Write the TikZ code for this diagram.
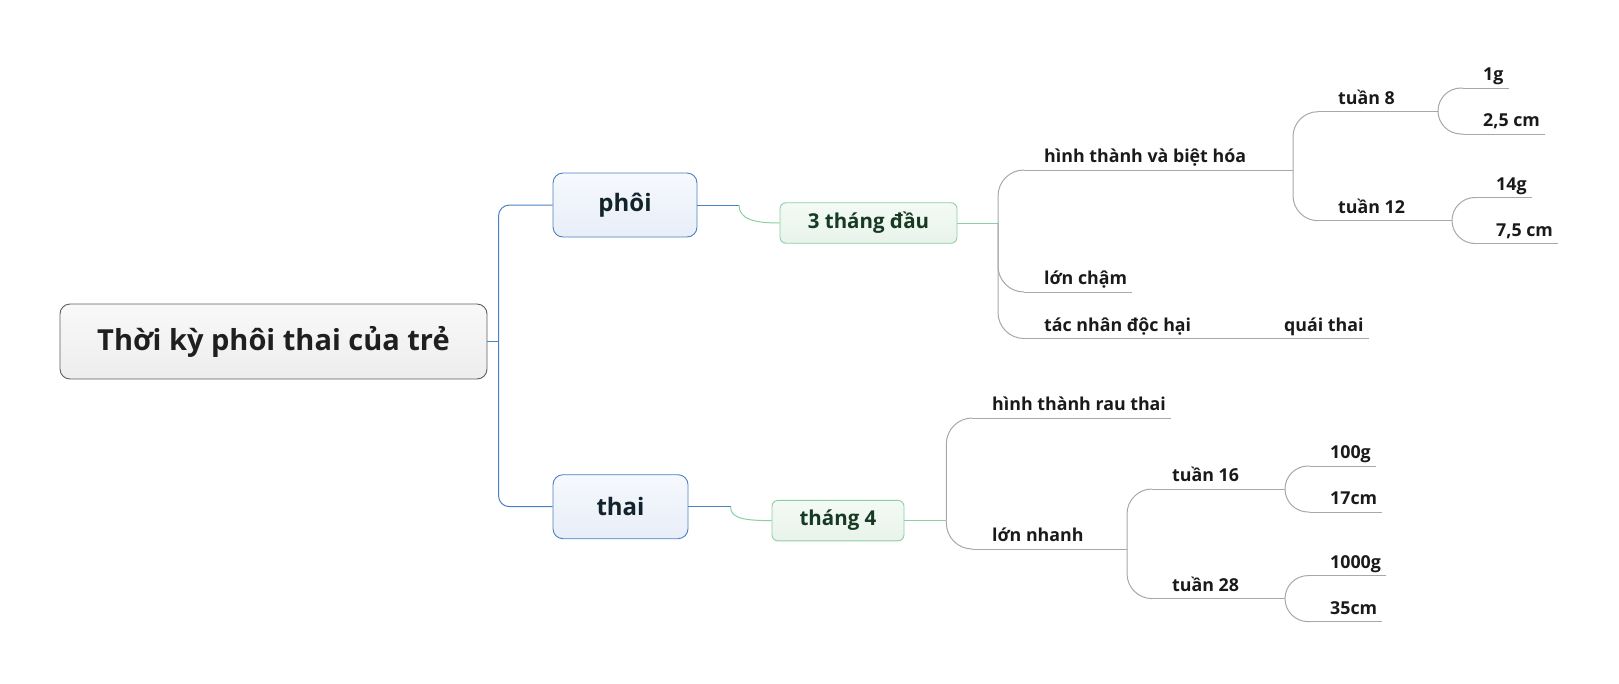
\documentclass[tikz,border=0pt]{standalone}
\usepackage{fontspec}
\setmainfont{Open Sans}
\definecolor{rootline}{HTML}{5E5E5E}
\definecolor{roottext}{HTML}{1F1F1F}
\definecolor{mainline}{HTML}{4A80C4}
\definecolor{maintop}{HTML}{F6F9FD}
\definecolor{mainbottom}{HTML}{E8EEF8}
\definecolor{maintext}{HTML}{13232C}
\definecolor{stageline}{HTML}{8CCFA2}
\definecolor{stagetop}{HTML}{F4FAF5}
\definecolor{stagebottom}{HTML}{E8F3EB}
\definecolor{stagetext}{HTML}{173A24}
\definecolor{twigline}{HTML}{A8A8A8}
\definecolor{topictext}{HTML}{1A1A1A}
\tikzset{
	rootbox/.style={draw=rootline, line width=0.9pt, rounded corners=10pt, top color=gray!5, bottom color=gray!14, inner sep=0pt, minimum width=427pt, minimum height=75pt, text=roottext, font=\bfseries\fontsize{29}{34}\selectfont},
	mainbox/.style={draw=mainline, line width=0.9pt, rounded corners=10pt, top color=maintop, bottom color=mainbottom, inner sep=0pt, minimum height=64pt, text=maintext, font=\bfseries\fontsize{24}{28}\selectfont},
	stagebox/.style={draw=stageline, line width=0.9pt, rounded corners=6pt, top color=stagetop, bottom color=stagebottom, inner sep=0pt, minimum height=40.5pt, text=stagetext, font=\bfseries\fontsize{20.5}{24}\selectfont},
	topic/.style={anchor=south west, inner xsep=0pt, inner ysep=7pt, text depth=0pt, text=topictext, font=\bfseries\fontsize{17.8}{21}\selectfont, execute at begin node=\hspace*{20pt}, execute at end node=\hspace*{5pt}}
}
\begin{document}
\begin{tikzpicture}[x=1pt, y=-1pt,
	trunk/.style={draw=mainline, line width=1pt},
	leaf/.style={draw=stageline, line width=1pt},
	twig/.style={draw=twigline, line width=1pt}]
	\useasboundingbox (0,0) rectangle (1619,683);

	\node[rootbox] (root) at (273.5,341.5) {Thời kỳ phôi thai của trẻ};
	\node[mainbox, minimum width=144pt] (phoi) at (625,205) {phôi};
	\node[mainbox, minimum width=135pt] (thai) at (620.5,506.7) {thai};
	\node[stagebox, minimum width=177pt] (thang3) at (868.5,223) {3 tháng đầu};
	\node[stagebox, minimum width=132pt] (thang4) at (838,520.6) {tháng 4};

	\node[topic] (hb) at (1024,170) {hình thành và biệt hóa};
	\node[topic] (lc) at (1024,292) {lớn chậm};
	\node[topic] (tn) at (1024,338.5) {tác nhân độc hại};
	\node[topic] (qt) at (1264,338.5) {quái thai};
	\node[topic] (t8) at (1318,111.7) {tuần 8};
	\node[topic] (t12) at (1318,220.7) {tuần 12};
	\node[topic] (g1) at (1463,88) {1g};
	\node[topic] (c25) at (1463,134) {2,5 cm};
	\node[topic] (g14) at (1476,197.5) {14g};
	\node[topic] (c75) at (1476,243.5) {7,5 cm};

	\node[topic] (rt) at (972,418) {hình thành rau thai};
	\node[topic] (ln) at (972,549) {lớn nhanh};
	\node[topic] (t16) at (1152,489) {tuần 16};
	\node[topic] (t28) at (1152,598.6) {tuần 28};
	\node[topic] (g100) at (1310,466) {100g};
	\node[topic] (c17) at (1310,512) {17cm};
	\node[topic] (g1000) at (1310,575.6) {1000g};
	\node[topic] (c35) at (1310,621.6) {35cm};

	\coordinate (rj) at (498.5,341.5);
	\coordinate (pj) at (739,205);
	\coordinate (tj) at (730.5,506.7);
	\coordinate (ja) at (998,223);
	\coordinate (jb) at (1293,170);
	\coordinate (jc) at (1438,111.7);
	\coordinate (jd) at (1452,220.7);
	\coordinate (je) at (946.3,520.6);
	\coordinate (jf) at (1127,549);
	\coordinate (jg) at (1285,489);
	\coordinate (jh) at (1285,598.6);

	\draw[trunk] (root.east) -- (rj);
	\foreach \n in {phoi,thai}
		\draw[trunk, rounded corners=11pt] (rj) |- (\n.west);
	\draw[trunk] (phoi.east) -- (pj);
	\draw[leaf] (pj) .. controls +(0,14) and +(-26,0) .. (thang3.west);
	\draw[trunk] (thai.east) -- (tj);
	\draw[leaf] (tj) .. controls +(0,12) and +(-26,0) .. (thang4.west);

	\draw[leaf] (thang3.east) -- (ja);
	\foreach \n in {hb,lc,tn}
		\draw[twig, rounded corners=26pt] (ja) |- (\n.south west);
	\draw[twig] (tn.south east) -- (qt.south west);
	\draw[twig] (hb.south east) -- (jb);
	\foreach \n in {t8,t12}
		\draw[twig, rounded corners=25pt] (jb) |- (\n.south west);
	\draw[twig] (t8.south east) -- (jc);
	\foreach \n in {g1,c25}
		\draw[twig, rounded corners=23pt] (jc) |- (\n.south west);
	\draw[twig] (t12.south east) -- (jd);
	\foreach \n in {g14,c75}
		\draw[twig, rounded corners=23pt] (jd) |- (\n.south west);

	\draw[leaf] (thang4.east) -- (je);
	\foreach \n in {rt,ln}
		\draw[twig, rounded corners=26pt] (je) |- (\n.south west);
	\draw[twig] (ln.south east) -- (jf);
	\foreach \n in {t16,t28}
		\draw[twig, rounded corners=25pt] (jf) |- (\n.south west);
	\draw[twig] (t16.south east) -- (jg);
	\foreach \n in {g100,c17}
		\draw[twig, rounded corners=23pt] (jg) |- (\n.south west);
	\draw[twig] (t28.south east) -- (jh);
	\foreach \n in {g1000,c35}
		\draw[twig, rounded corners=23pt] (jh) |- (\n.south west);

	\foreach \n in {hb,lc,tn,qt,t8,t12,g1,c25,g14,c75,rt,ln,t16,t28,g100,c17,g1000,c35}
		\draw[twig] (\n.south west) -- (\n.south east);
\end{tikzpicture}
\end{document}
